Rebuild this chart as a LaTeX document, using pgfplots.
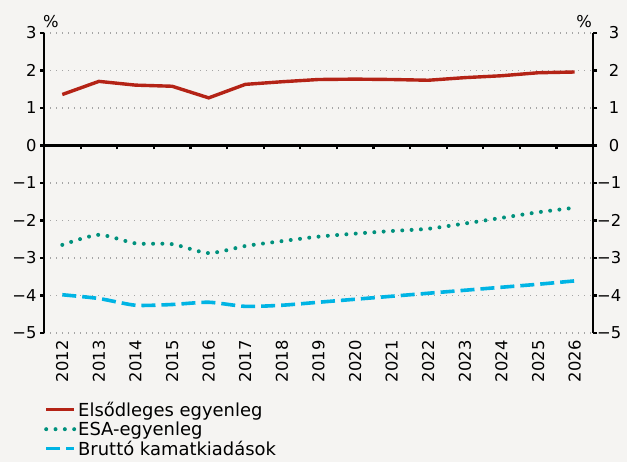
\documentclass[border=0pt]{standalone}
\usepackage{pgfplots}
\pgfplotsset{compat=1.18}
\usepackage{fontspec}
\setmainfont{DejaVu Sans}
\definecolor{bg}{RGB}{245,244,242}
\definecolor{cred}{RGB}{180,35,22}
\definecolor{cgreen}{RGB}{0,145,125}
\definecolor{cblue}{RGB}{0,180,228}
\definecolor{cgrid}{RGB}{165,165,165}
\newcommand{\tfont}{\fontsize{16.4}{19}\selectfont}
\newcommand{\lfont}{\fontsize{18}{20}\selectfont}
\begin{document}
\begin{tikzpicture}[font=\tfont]
\fill[bg] (-44bp,-129bp) rectangle (583bp,333bp);
\pgfplotsset{
 common/.style={scale only axis, width=549bp, height=300bp,
   xmin=2011.5, xmax=2026.5, ymin=-5, ymax=3, ytick={-5,...,3},
   yticklabels={−5,−4,−3,−2,−1,0,1,2,3},
   tick label style={font=\tfont},
   tick align=outside, major tick length=4bp,
   y axis line style={line width=2.6bp, black},
   major y tick style={line width=2.2bp, black},
   clip mode=individual,
 }
}
\begin{axis}[common,
 axis y line*=left, axis x line*=bottom,
 x axis line style={draw=none},
 xtick={2012,...,2026},
 xticklabels={2012,2013,2014,2015,2016,2017,2018,2019,2020,2021,2022,2023,2024,2025,2026},
 xticklabel style={rotate=90, anchor=east},
 major x tick style={draw=none},
 ymajorgrids, grid style={cgrid, line width=1.2bp, dash pattern=on 1.2bp off 4.8bp},
 legend style={at={(0,-0.222)}, anchor=north west, draw=none, fill=none,
   legend cell align=left, font=\lfont, row sep=0bp, inner sep=0pt},
 legend image code/.code={\draw[#1] (0bp,0bp) -- (28bp,0bp);},
]
\addplot[cred, line width=3.4bp] coordinates {
(2012,1.36) (2013,1.71) (2014,1.61) (2015,1.58) (2016,1.27) (2017,1.63) (2018,1.70)
(2019,1.76) (2020,1.77) (2021,1.76) (2022,1.74) (2023,1.81) (2024,1.86) (2025,1.94) (2026,1.96)};
\addlegendentry{Elsődleges egyenleg}
\addplot[cgreen, line width=4bp, line cap=round, dash pattern=on 0bp off 9.33bp, smooth, tension=0.4] coordinates {
(2012,-2.65) (2013,-2.38) (2014,-2.61) (2015,-2.63) (2016,-2.87) (2017,-2.68) (2018,-2.55)
(2019,-2.43) (2020,-2.35) (2021,-2.28) (2022,-2.22) (2023,-2.08) (2024,-1.93) (2025,-1.78) (2026,-1.66)};
\addlegendentry{ESA-egyenleg}
\addplot[cblue, line width=3.6bp, dash pattern=on 14bp off 6bp, smooth, tension=0.4] coordinates {
(2012,-3.98) (2013,-4.08) (2014,-4.26) (2015,-4.24) (2016,-4.18) (2017,-4.29) (2018,-4.26)
(2019,-4.18) (2020,-4.10) (2021,-4.02) (2022,-3.94) (2023,-3.86) (2024,-3.78) (2025,-3.70) (2026,-3.61)};
\addlegendentry{Bruttó kamatkiadások}
\node[anchor=south, inner sep=0pt] at (rel axis cs:0,1) [xshift=7bp, yshift=5bp] {\%};
\end{axis}
\begin{axis}[common,
 axis y line*=right, axis x line=none,
 yticklabel style={text width=22bp, align=right, inner sep=0pt, anchor=west, xshift=0bp},
]
\node[anchor=south, inner sep=0pt] at (rel axis cs:1,1) [xshift=-9bp, yshift=5bp] {\%};
\end{axis}
\begin{axis}[scale only axis, width=549bp, height=112.5bp, at={(0bp,187.5bp)},
 xmin=2011.5, xmax=2026.5, ymin=0, ymax=3,
 axis x line*=bottom, axis y line=none,
 xtick={2012.5,2013.5,2014.5,2015.5,2016.5,2017.5,2018.5,2019.5,2020.5,2021.5,2022.5,2023.5,2024.5,2025.5},
 xticklabels={},
 tick align=outside, major tick length=4bp,
 x axis line style={line width=2.4bp, black},
 major x tick style={line width=2.2bp, black},
]
\end{axis}
\end{tikzpicture}
\end{document}
